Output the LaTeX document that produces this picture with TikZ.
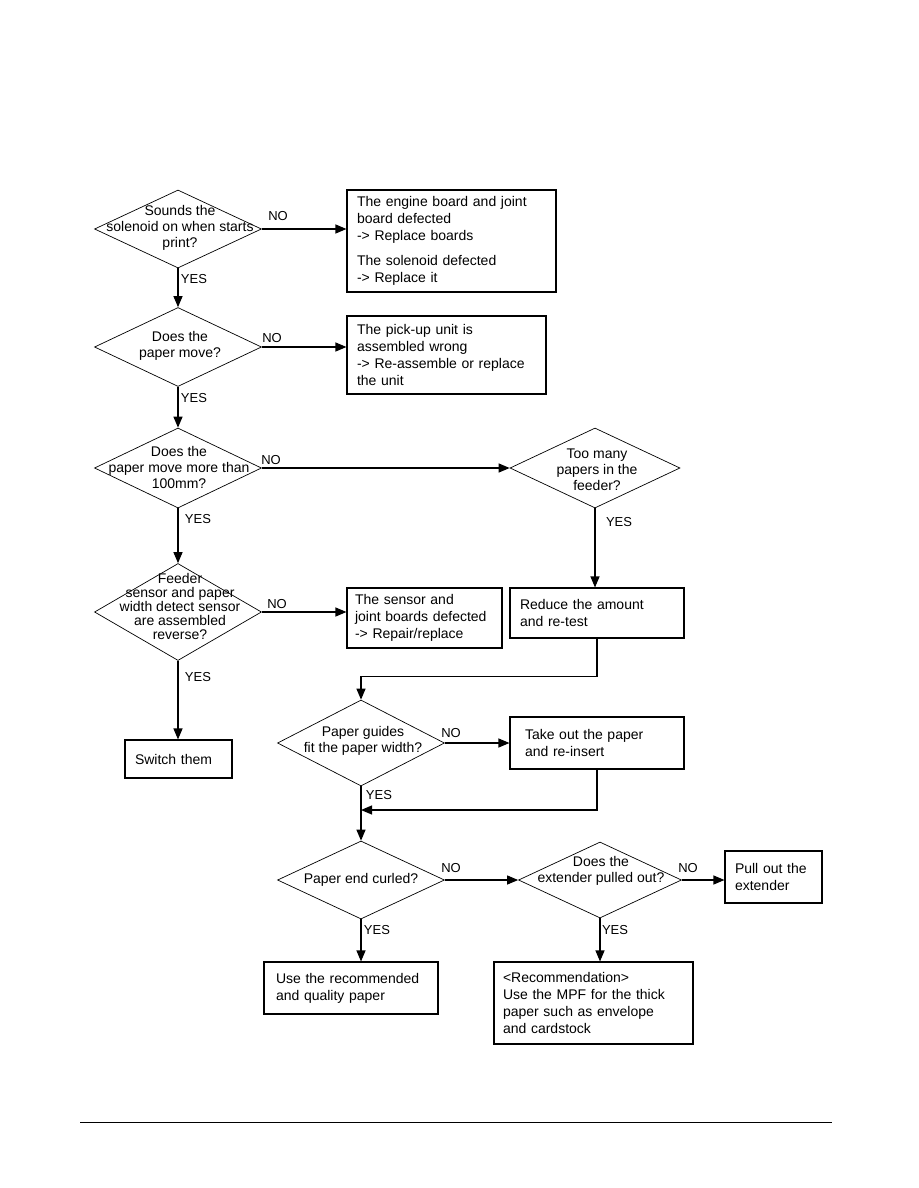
\documentclass[tikz,border=0pt]{standalone}
\usepackage{fontspec}
\setmainfont{Liberation Sans}
\usetikzlibrary{shapes.geometric,arrows.meta}
\begin{document}
\begin{tikzpicture}[x=1pt,y=-1pt,
  dec/.style={diamond, draw, line width=0.7pt, inner sep=0pt},
  dtext/.style={align=center, inner sep=0pt, font=\fontsize{14}{16}\selectfont},
  box/.style={draw, line width=1.1pt, inner ysep=0pt, align=left, font=\fontsize{14}{17}\selectfont},
  arr/.style={-{Triangle[length=11pt,width=9pt]}, line width=1.1pt},
  lbl/.style={inner sep=0pt, font=\fontsize{13}{14}\selectfont}
]
\useasboundingbox (0,0) rectangle (918,1188);
% decisions
\node[dec, minimum width=167pt, minimum height=78pt] (d1) at (178,229) {};
\node[dtext] (t1) at (180,228) {Sounds the\\solenoid on when starts\\print?};
\node[dec, minimum width=167pt, minimum height=79pt] (d2) at (178,347) {};
\node[dtext] (t2) at (180,346) {Does the\\paper move?};
\node[dec, minimum width=167pt, minimum height=80pt] (d3) at (178,468) {};
\node[dtext] (t3) at (179,467) {Does the\\paper move more than\\100mm?};
\node[dec, minimum width=170pt, minimum height=80pt] (d4) at (595,468) {};
\node[dtext] (t4) at (597,470) {Too many\\papers in the\\feeder?};
\node[dec, minimum width=167pt, minimum height=97pt] (d5) at (178,612) {};
\node[dtext, font=\fontsize{14}{14}\selectfont] (t5) at (180,606) {Feeder\\sensor and paper\\width detect sensor\\are assembled\\reverse?};
\node[dec, minimum width=167pt, minimum height=86pt] (d6) at (361,743) {};
\node[dtext] (t6) at (363,741) {Paper guides\\fit the paper width?};
\node[dec, minimum width=167pt, minimum height=78pt] (d7) at (361,880) {};
\node[dtext] (t7) at (361,880) {Paper end curled?};
\node[dec, minimum width=163pt, minimum height=76pt] (d8) at (600,880) {};
\node[dtext] (t8) at (601,871) {Does the\\extender pulled out?};
% boxes
\node[box, text width=189pt, inner xsep=10pt, minimum height=102pt] (b1) at (451.5,241)
 {The engine board and joint\\board defected\\-> Replace boards\\[8pt]The solenoid defected\\-> Replace it};
\node[box, text width=179pt, inner xsep=10pt, minimum height=78pt] (b2) at (446.5,355)
 {The pick-up unit is\\assembled wrong\\-> Re-assemble or replace\\the unit};
\node[box, text width=139pt, inner xsep=8pt, minimum height=60pt] (b5) at (424.5,618)
 {The sensor and\\joint boards defected\\-> Repair/replace};
\node[box, text width=87pt, inner xsep=10pt, minimum height=38pt] (sw) at (178.5,759)
 {Switch them};
\node[box, text width=154pt, inner xsep=10pt, minimum height=50pt] (b4) at (597,613)
 {Reduce the amount\\and re-test};
\node[box, text width=144pt, inner xsep=15pt, minimum height=52pt] (b6) at (597,743)
 {Take out the paper\\and re-insert};
\node[box, text width=77pt, inner xsep=10pt, minimum height=52pt] (b9) at (773.5,877)
 {Pull out the\\extender};
\node[box, text width=150pt, inner xsep=12pt, minimum height=52pt] (b10) at (351,988)
 {Use the recommended\\and quality paper};
\node[box, text width=181pt, inner xsep=9pt, minimum height=82pt] (b11) at (593.5,1003)
 {<Recommendation>\\Use the MPF for the thick\\paper such as envelope\\and cardstock};
% connectors
\draw[arr] (d1.east) -- (d1.east -| b1.west);
\draw[arr] (d1.south) -- (d2.north);
\draw[arr] (d2.east) -- (d2.east -| b2.west);
\draw[arr] (d2.south) -- (d3.north);
\draw[arr] (d3.east) -- (d4.west);
\draw[arr] (d3.south) -- (d5.north);
\draw[arr] (d5.east) -- (d5.east -| b5.west);
\draw[arr] (d5.south) -- (d5.south |- sw.north);
\draw[arr] (d4.south) -- (d4.south |- b4.north);
\draw[arr] (b4.south) -- ++(0,38) -| (d6.north);
\draw[arr] (d6.east) -- (d6.east -| b6.west);
\coordinate (m6) at (361,810);
\draw[arr] (b6.south) |- (m6);
\draw[arr] (d6.south) -- (d7.north);
\draw[arr] (d7.east) -- (d8.west);
\draw[arr] (d8.east) -- (d8.east -| b9.west);
\draw[arr] (d7.south) -- (d7.south |- b10.north);
\draw[arr] (d8.south) -- (d8.south |- b11.north);
% labels
\node[lbl] (n1) at (278,216) {NO};
\node[lbl] (y1) at (194,279) {YES};
\node[lbl] (n2) at (272,338) {NO};
\node[lbl] (y2) at (194,398) {YES};
\node[lbl] (n3) at (271,460) {NO};
\node[lbl] (y3) at (198,519) {YES};
\node[lbl] (y4) at (619,522) {YES};
\node[lbl] (n5) at (277,604) {NO};
\node[lbl] (y5) at (198,677) {YES};
\node[lbl] (n6) at (451,733) {NO};
\node[lbl] (y6) at (379,795) {YES};
\node[lbl] (n7) at (451,868) {NO};
\node[lbl] (y7) at (377,930) {YES};
\node[lbl] (n8) at (688,868) {NO};
\node[lbl] (y8) at (615,930) {YES};
% footer rule
\coordinate (f1) at (80,1122);
\coordinate (f2) at (832,1122);
\draw[line width=1pt] (f1) -- (f2);
\end{tikzpicture}
\end{document}
